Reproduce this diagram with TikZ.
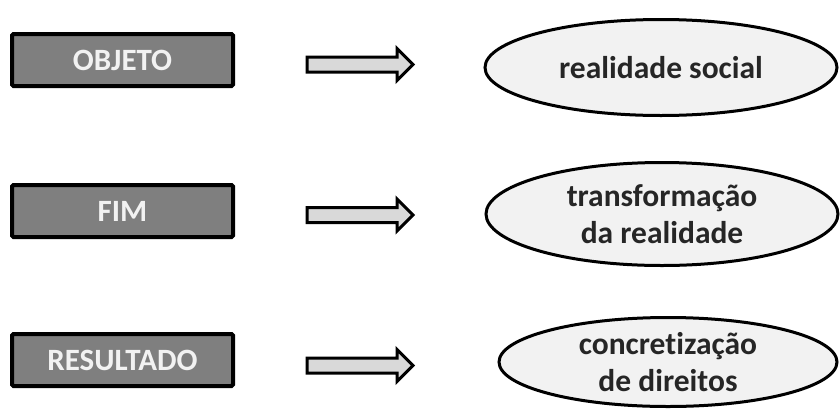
\documentclass[tikz,border=0pt]{standalone}
\usepackage{fontspec}
\setmainfont{Carlito}[Ligatures=NoCommon]
\usetikzlibrary{shapes.geometric}
\definecolor{boxgray}{HTML}{7F7F7F}
\definecolor{boxtext}{HTML}{F2F2F2}
\definecolor{ovalfill}{HTML}{F2F2F2}
\definecolor{ovaltext}{HTML}{262626}
\definecolor{arrowfill}{HTML}{D9D9D9}
\tikzset{
  label box/.style={draw=black, line width=4pt, fill=boxgray, rounded corners=1.5pt,
    minimum width=221pt, minimum height=52pt, inner sep=0pt,
    text=boxtext, font=\fontsize{31}{36}\selectfont\bfseries},
  oval/.style={ellipse, draw=black, line width=3pt, fill=ovalfill, inner sep=0pt,
    text=ovaltext, align=center, font=\fontsize{31.5}{37}\selectfont\bfseries},
  block arrow/.style={draw=black, line width=3pt, fill=arrowfill, line join=miter},
}
\begin{document}
\begin{tikzpicture}[x=1pt, y=-1pt]
\useasboundingbox (0,0) rectangle (840,410);

% left-hand labels
\node[label box] (objeto) at (122.5,60) {OBJETO};
\node[label box] (fim) at (122.5,211) {FIM};
\node[label box] (resultado) at (122.5,360) {RESULTADO};

% right-hand ovals
\node[oval, minimum width=352pt, minimum height=96pt] (social) at (661,67.5) {realidade social};
\node[oval, minimum width=352pt, minimum height=103pt] (transf) at (662,214) {transformação\\da realidade};
\node[oval, minimum width=338pt, minimum height=89pt] (direitos) at (668,362) {concretização\\de direitos};

% block arrows between the columns (start at the top-left corner of the shaft)
\foreach \c/\n in {64.5/a1, 215/a2, 365.5/a3}{
  \coordinate (\n) at (307,\c-7.5);
  \draw[block arrow] (\n) -- ++(90,0) -- ++(0,-8.5) -- ++(16,16)
    -- ++(-16,16) -- ++(0,-8.5) -- ++(-90,0) -- cycle;
}
\end{tikzpicture}
\end{document}
